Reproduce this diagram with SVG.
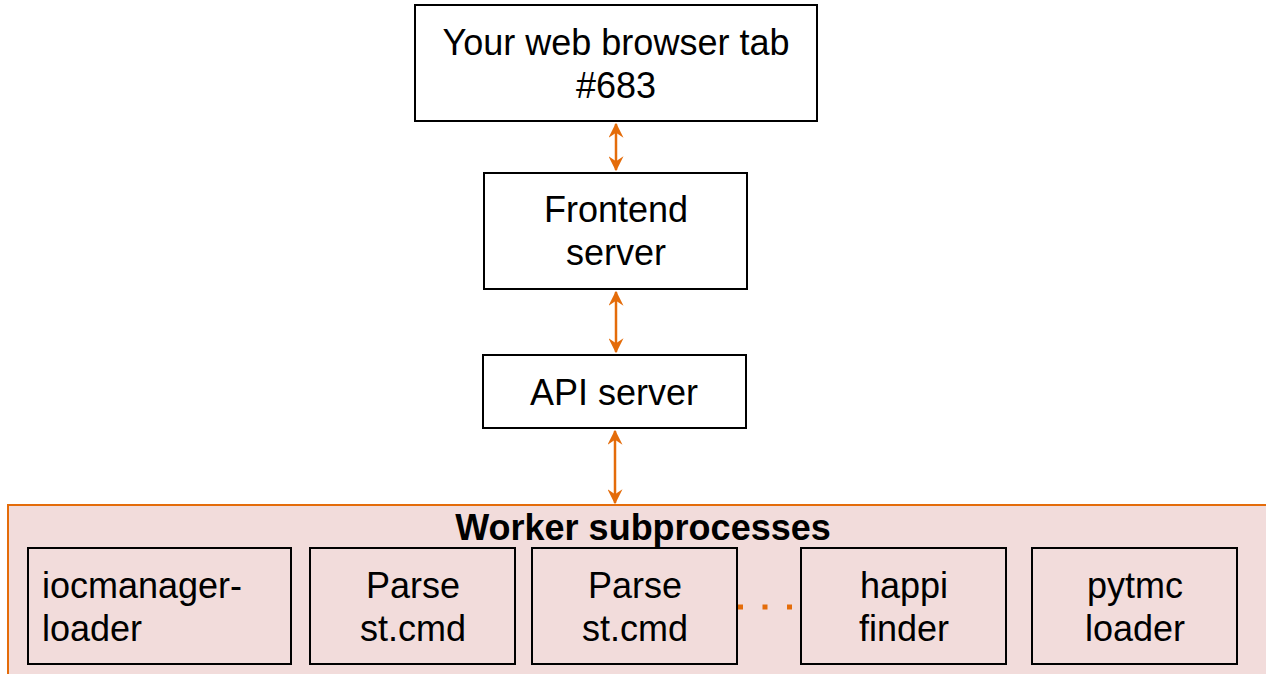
<svg xmlns="http://www.w3.org/2000/svg" width="1266" height="674" viewBox="0 0 1266 674">
<style>
.box{fill:#fff;stroke:#000;stroke-width:2}
.sub{fill:none;stroke:#000;stroke-width:2}
.t{font-family:"Liberation Sans",Arial,sans-serif;font-size:36px;fill:#000;text-anchor:middle}
.l{text-anchor:start}
.conn{stroke:#E46C0A;stroke-width:2.5;fill:none;marker-start:url(#ah);marker-end:url(#ah)}
</style>
<defs>
<marker id="ah" viewBox="0 0 12 12" refX="11" refY="6" markerWidth="6" markerHeight="6" orient="auto-start-reverse" markerUnits="strokeWidth">
<path d="M0,0 L12,6 L0,12 L4,6 Z" fill="#E46C0A"/>
</marker>
</defs>
<rect width="1266" height="674" fill="#fff"/>
<g id="workers">
<rect x="8" y="505" width="1266" height="180" fill="#F2DCDB" stroke="#E46C0A" stroke-width="2"/>
<text x="643" y="540" class="t" font-weight="bold">Worker subprocesses</text>
</g>
<g id="browser">
<rect class="box" x="415" y="5" width="402" height="116"/>
<text class="t" x="616" y="55">Your web browser tab</text>
<text class="t" x="616" y="98">#683</text>
</g>
<g id="frontend">
<rect class="box" x="484" y="173" width="263" height="116"/>
<text class="t" x="616" y="222">Frontend</text>
<text class="t" x="616" y="265">server</text>
</g>
<g id="api">
<rect class="box" x="483" y="355" width="263" height="73"/>
<text class="t" x="614" y="405">API server</text>
</g>
<g id="iocmanager">
<rect class="sub" x="28" y="548" width="263" height="116"/>
<text class="t l" x="42" y="598">iocmanager-</text>
<text class="t l" x="42" y="641">loader</text>
</g>
<g id="parse1">
<rect class="sub" x="310" y="548" width="205" height="116"/>
<text class="t" x="413" y="598">Parse</text>
<text class="t" x="413" y="641">st.cmd</text>
</g>
<g id="parse2">
<rect class="sub" x="532" y="548" width="205" height="116"/>
<text class="t" x="635" y="598">Parse</text>
<text class="t" x="635" y="641">st.cmd</text>
</g>
<g id="happi">
<rect class="sub" x="801" y="548" width="205" height="116"/>
<text class="t" x="904" y="598">happi</text>
<text class="t" x="904" y="641">finder</text>
</g>
<g id="pytmc">
<rect class="sub" x="1032" y="548" width="205" height="116"/>
<text class="t" x="1135" y="598">pytmc</text>
<text class="t" x="1135" y="641">loader</text>
</g>
<g id="connectors">
<line class="conn" x1="616" y1="124" x2="616" y2="170"/>
<line class="conn" x1="616" y1="292" x2="616" y2="352"/>
<line class="conn" x1="615" y1="431" x2="615" y2="503"/>
<line x1="738" y1="607" x2="800" y2="607" stroke="#E46C0A" stroke-width="5" stroke-dasharray="5,19.5"/>
</g>
</svg>
